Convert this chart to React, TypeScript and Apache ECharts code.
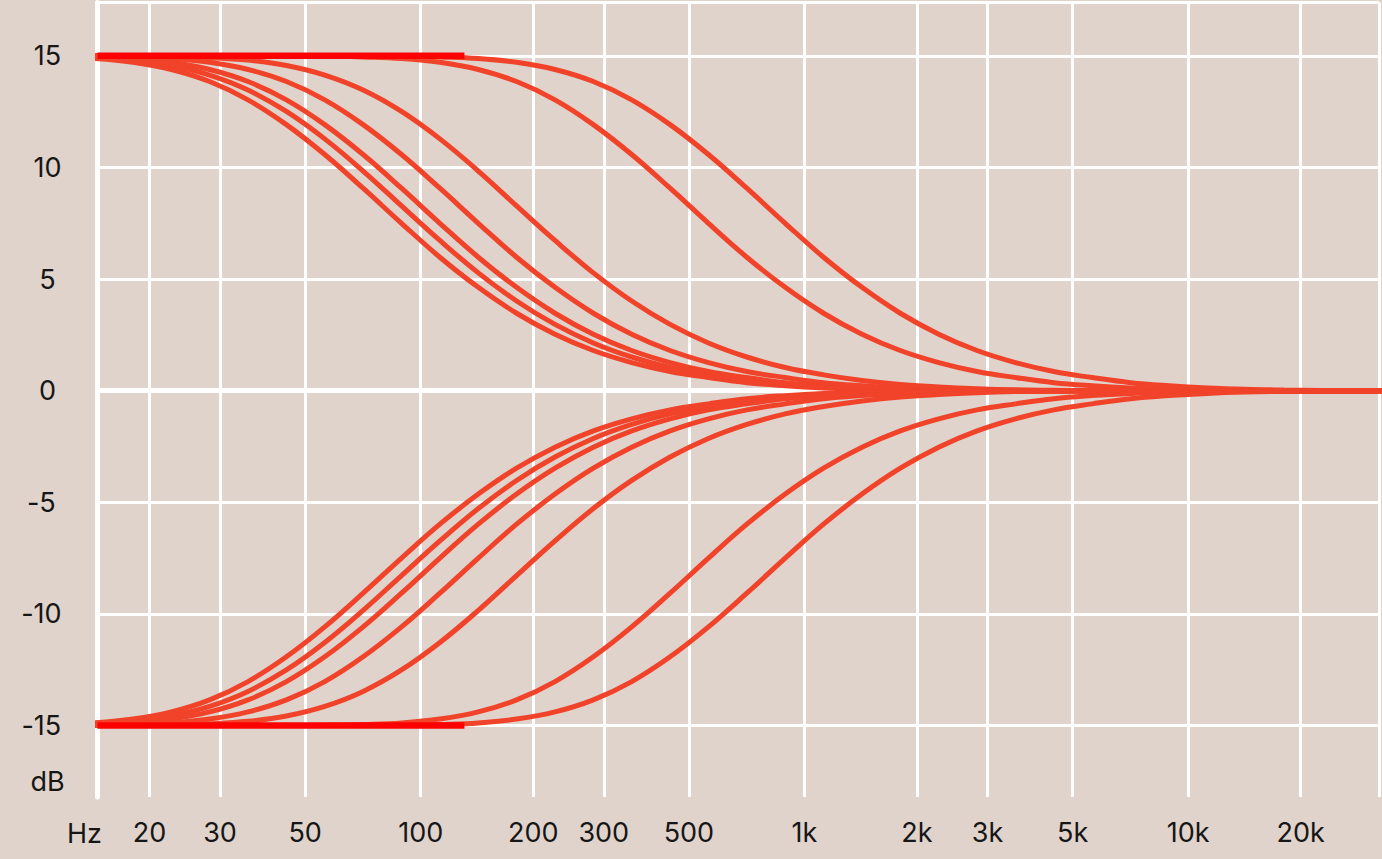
import React, { useEffect, useRef } from "react";
import * as echarts from "echarts";

// Sample frequencies (Hz), spaced every 0.1 decade
const FREQS = [
  14.13, 17.78, 22.39, 28.18, 35.48, 44.67, 56.23, 70.79, 89.13, 112.2, 141.3, 177.8, 223.9, 281.8,
  354.8, 446.7, 562.3, 707.9, 891.3, 1122, 1413, 1778, 2239, 2818, 3548, 4467, 5623, 7079, 8913,
  11220, 14125, 17783, 22387, 28184, 35481,
];

// Boost curves (dB)
const UP_1 = [14.88, 14.71, 14.39, 13.85, 13.03, 11.92, 10.58, 9.07, 7.5, 5.98, 4.63, 3.47, 2.53, 1.8, 1.26, 0.86, 0.59, 0.36, 0.22, 0.12, 0.06, 0.03, 0.01, 0, 0, 0, 0, 0, 0, 0, 0, 0, 0, 0, 0];
const UP_2 = [14.92, 14.81, 14.57, 14.14, 13.47, 12.51, 11.28, 9.84, 8.28, 6.73, 5.28, 4.02, 2.97, 2.14, 1.51, 1.04, 0.71, 0.46, 0.28, 0.17, 0.09, 0.04, 0.02, 0, 0, 0, 0, 0, 0, 0, 0, 0, 0, 0, 0];
const UP_3 = [14.95, 14.88, 14.71, 14.39, 13.85, 13.03, 11.92, 10.58, 9.07, 7.5, 5.98, 4.63, 3.47, 2.53, 1.8, 1.26, 0.86, 0.59, 0.36, 0.22, 0.12, 0.06, 0.03, 0.01, 0, 0, 0, 0, 0, 0, 0, 0, 0, 0, 0];
const UP_4 = [14.99, 14.95, 14.88, 14.71, 14.39, 13.85, 13.03, 11.92, 10.58, 9.07, 7.5, 5.98, 4.63, 3.47, 2.53, 1.8, 1.26, 0.86, 0.59, 0.36, 0.22, 0.12, 0.06, 0.03, 0.01, 0, 0, 0, 0, 0, 0, 0, 0, 0, 0];
const UP_5 = [15, 15, 14.97, 14.92, 14.81, 14.57, 14.14, 13.47, 12.51, 11.28, 9.84, 8.28, 6.73, 5.28, 4.02, 2.97, 2.14, 1.51, 1.04, 0.71, 0.46, 0.28, 0.17, 0.09, 0.04, 0.02, 0, 0, 0, 0, 0, 0, 0, 0, 0];
const UP_6 = [15, 15, 15, 15, 15, 15, 14.99, 14.95, 14.88, 14.71, 14.39, 13.85, 13.03, 11.92, 10.58, 9.07, 7.5, 5.98, 4.63, 3.47, 2.53, 1.8, 1.26, 0.86, 0.59, 0.36, 0.22, 0.12, 0.06, 0.03, 0.01, 0, 0, 0, 0];
const UP_7 = [15, 15, 15, 15, 15, 15, 15, 15, 14.99, 14.95, 14.88, 14.71, 14.39, 13.85, 13.03, 11.92, 10.58, 9.07, 7.5, 5.98, 4.63, 3.47, 2.53, 1.8, 1.26, 0.86, 0.59, 0.36, 0.22, 0.12, 0.06, 0.03, 0.01, 0, 0];

// Cut curves (dB)
const DOWN_1 = [-14.88, -14.71, -14.39, -13.85, -13.03, -11.92, -10.58, -9.07, -7.5, -5.98, -4.63, -3.47, -2.53, -1.8, -1.26, -0.86, -0.59, -0.36, -0.22, -0.12, -0.06, -0.03, -0.01, 0, 0, 0, 0, 0, 0, 0, 0, 0, 0, 0, 0];
const DOWN_2 = [-14.92, -14.81, -14.57, -14.14, -13.47, -12.51, -11.28, -9.84, -8.28, -6.73, -5.28, -4.02, -2.97, -2.14, -1.51, -1.04, -0.71, -0.46, -0.28, -0.17, -0.09, -0.04, -0.02, 0, 0, 0, 0, 0, 0, 0, 0, 0, 0, 0, 0];
const DOWN_3 = [-14.95, -14.88, -14.71, -14.39, -13.85, -13.03, -11.92, -10.58, -9.07, -7.5, -5.98, -4.63, -3.47, -2.53, -1.8, -1.26, -0.86, -0.59, -0.36, -0.22, -0.12, -0.06, -0.03, -0.01, 0, 0, 0, 0, 0, 0, 0, 0, 0, 0, 0];
const DOWN_4 = [-14.99, -14.95, -14.88, -14.71, -14.39, -13.85, -13.03, -11.92, -10.58, -9.07, -7.5, -5.98, -4.63, -3.47, -2.53, -1.8, -1.26, -0.86, -0.59, -0.36, -0.22, -0.12, -0.06, -0.03, -0.01, 0, 0, 0, 0, 0, 0, 0, 0, 0, 0];
const DOWN_5 = [-15, -15, -14.97, -14.92, -14.81, -14.57, -14.14, -13.47, -12.51, -11.28, -9.84, -8.28, -6.73, -5.28, -4.02, -2.97, -2.14, -1.51, -1.04, -0.71, -0.46, -0.28, -0.17, -0.09, -0.04, -0.02, 0, 0, 0, 0, 0, 0, 0, 0, 0];
const DOWN_6 = [-15, -15, -15, -15, -15, -15, -14.99, -14.95, -14.88, -14.71, -14.39, -13.85, -13.03, -11.92, -10.58, -9.07, -7.5, -5.98, -4.63, -3.47, -2.53, -1.8, -1.26, -0.86, -0.59, -0.36, -0.22, -0.12, -0.06, -0.03, -0.01, 0, 0, 0, 0];
const DOWN_7 = [-15, -15, -15, -15, -15, -15, -15, -15, -14.99, -14.95, -14.88, -14.71, -14.39, -13.85, -13.03, -11.92, -10.58, -9.07, -7.5, -5.98, -4.63, -3.47, -2.53, -1.8, -1.26, -0.86, -0.59, -0.36, -0.22, -0.12, -0.06, -0.03, -0.01, 0, 0];

const CURVES = [UP_1, UP_2, UP_3, UP_4, UP_5, UP_6, UP_7, DOWN_1, DOWN_2, DOWN_3, DOWN_4, DOWN_5, DOWN_6, DOWN_7];

// Flat full-gain segments
const FLAT_FREQS = [14.38, 130];
const FLAT_TOP = [15, 15];
const FLAT_BOTTOM = [-15, -15];

// Axes (tick positions as placed on the original grid)
const X_MIN_HZ = 14.38;
const X_MAX_HZ = 31440;
const X_TICK_POS_HZ = [19.65, 30, 50, 100, 196.5, 300, 500, 1000, 1965, 3000, 5000, 10000, 19650];
const X_TICK_LABELS = ["20", "30", "50", "100", "200", "300", "500", "1k", "2k", "3k", "5k", "10k", "20k"];
const Y_MIN = -18.2;
const Y_MAX = 17.39;
const Y_TICKS = [-15, -10, -5, 0, 5, 10, 15];
const Y_UNIT_AT = -17.49;
const Y_UNIT = "dB";
const X_UNIT = "Hz";

const BG = "#e0d3cb";
const CURVE_COLOR = "#f0432a";
const FLAT_COLOR = "#ff0000";
const TEXT_COLOR = "#161616";
const FONT = "Inter, 'Noto Sans', sans-serif";

export default function App() {
  const ref = useRef<HTMLDivElement>(null);

  useEffect(() => {
    document.body.style.margin = "0";
    document.body.style.background = BG;
    if (!ref.current) return;
    const chart = echarts.init(ref.current, undefined, { renderer: "svg" });

    const lg = (f: number) => Math.log10(f);
    const xMin = lg(X_MIN_HZ);
    const xMax = lg(X_MAX_HZ);
    const xTickVals = X_TICK_POS_HZ.map(lg);

    const curveSeries = CURVES.map((vals) => ({
      type: "line",
      data: FREQS.map((f, i) => [lg(f), vals[i]]),
      smooth: 0.4,
      showSymbol: false,
      symbol: "none",
      silent: true,
      lineStyle: { color: CURVE_COLOR, width: 5 },
      z: 3,
    }));

    const flatSeries = [FLAT_TOP, FLAT_BOTTOM].map((vals) => ({
      type: "line",
      data: FLAT_FREQS.map((f, i) => [lg(f), vals[i]]),
      showSymbol: false,
      symbol: "none",
      silent: true,
      lineStyle: { color: FLAT_COLOR, width: 6.5 },
      z: 5,
    }));

    const base = { fontSize: 27, fontFamily: FONT, color: TEXT_COLOR };
    const labelRich = {
      p: { ...base },
      d: { ...base, width: 12, align: "right" },
      v: { ...base, padding: [0, 12, 0, 0] },
    };

    chart.setOption({
      animation: false,
      backgroundColor: BG,
      grid: { left: 97.5, right: 3, top: 2.5, bottom: 62, containLabel: false },
      xAxis: {
        type: "value",
        min: xMin,
        max: xMax,
        axisLine: { show: true, lineStyle: { color: "#ffffff", width: 5 } },
        axisTick: { show: false, customValues: [...xTickVals, xMax] },
        axisLabel: {
          customValues: xTickVals,
          margin: 22,
          fontSize: 27,
          fontFamily: FONT,
          color: TEXT_COLOR,
          formatter: (v: number) => {
            const i = xTickVals.findIndex((t) => Math.abs(t - v) < 1e-6);
            return i >= 0 ? X_TICK_LABELS[i] : "";
          },
        },
        splitLine: { show: true, lineStyle: { color: "#ffffff", width: 3 } },
      },
      yAxis: {
        type: "value",
        min: Y_MIN,
        max: Y_MAX,
        axisLine: { show: true, lineStyle: { color: "#ffffff", width: 5 } },
        axisTick: { show: false, customValues: [...Y_TICKS, Y_MAX] },
        axisLabel: {
          customValues: [Y_UNIT_AT, ...Y_TICKS],
          margin: 50,
          align: "center",
          fontSize: 27,
          fontFamily: FONT,
          color: TEXT_COLOR,
          formatter: (v: number) => {
            if (Math.abs(v - Y_UNIT_AT) < 1e-6) return `{p|${Y_UNIT}}`;
            return v < 0 ? `{d|-}{v|${Math.abs(v)}}` : `{p|${v}}`;
          },
          rich: labelRich,
        },
        splitLine: { show: true, lineStyle: { color: "#ffffff", width: 3 } },
      },
      graphic: [
        {
          type: "text",
          left: 67,
          top: 820,
          style: { text: X_UNIT, fontSize: 27, fontFamily: FONT, fill: TEXT_COLOR },
        },
      ],
      series: [...curveSeries, ...flatSeries],
    });

    return () => chart.dispose();
  }, []);

  return <div ref={ref} style={{ width: 1382, height: 859 }} />;
}
